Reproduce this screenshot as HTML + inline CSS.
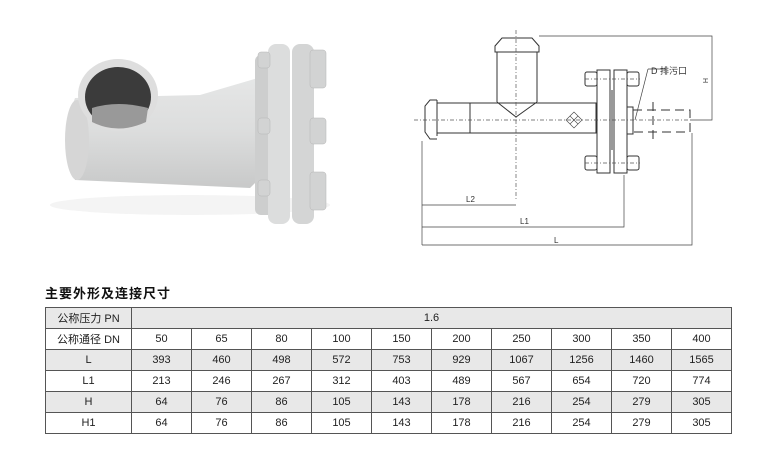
<!DOCTYPE html>
<html><head><meta charset="utf-8"><style>
body{margin:0;background:#fff;width:771px;height:466px;overflow:hidden;font-family:"Liberation Sans","Noto Sans CJK SC",sans-serif}
.t{position:absolute;left:45px;top:286px;font-size:13px;line-height:16px;font-weight:bold;color:#111;letter-spacing:1px}
table{position:absolute;left:45px;top:307px;border-collapse:collapse;font-size:11px;color:#222}
td{border:1px solid #555;height:20px;padding:0;text-align:center;width:59px}
td.h{width:85px}
tr.g td{background:#e8e8e8}
</style></head><body>
<svg width="771" height="290" style="position:absolute;left:0;top:0">
<defs><linearGradient id="pg" x1="0" y1="0" x2="0" y2="1"><stop offset="0" stop-color="#e6e7e7"/><stop offset=".5" stop-color="#dcdddd"/><stop offset="1" stop-color="#c8c9c9"/></linearGradient></defs>
<!-- photo -->
<ellipse cx="190" cy="205" rx="140" ry="10" fill="#f4f4f4"/>
<path d="M75 98 Q62 130 75 180 L250 188 L268 170 L268 75 L200 95 Z" fill="url(#pg)"/>
<ellipse cx="77" cy="140" rx="12" ry="40" fill="#d6d6d6"/>
<ellipse cx="118" cy="95" rx="40" ry="36" fill="#dedede"/>
<ellipse cx="118" cy="97" rx="33" ry="30" fill="#3b3b3b"/>
<path d="M92 108 Q118 100 148 108 L146 122 Q118 135 92 122 Z" fill="#999"/>
<rect x="255" y="55" width="20" height="160" rx="6" fill="#cdcece"/>
<rect x="268" y="44" width="22" height="180" rx="8" fill="#dcdddd"/>
<rect x="292" y="44" width="22" height="180" rx="8" fill="#d4d5d5"/>
<g fill="#d2d3d3" stroke="#b5b5b5" stroke-width=".5">
<rect x="258" y="52" width="12" height="16" rx="3"/><rect x="258" y="118" width="12" height="16" rx="3"/><rect x="258" y="180" width="12" height="16" rx="3"/>
<rect x="310" y="50" width="16" height="38" rx="3"/><rect x="310" y="118" width="16" height="26" rx="3"/><rect x="310" y="172" width="16" height="38" rx="3"/>
</g>
<!-- drawing -->
<g fill="none" stroke="#333" stroke-width="1">
<path d="M497 52 L497 102 M537 52 L537 102 M497 102 L516 117 L537 102"/>
<path d="M495 52 L539 52 L539 46 L532 38 L502 38 L495 46 Z"/>
<path d="M437 103 L597 103 M437 133 L597 133 M470 103 L470 133 M596 103 V133"/>
<path d="M437 100 L437 136 M437 100 L430 100 L425 106 L425 132 L430 139 L437 139"/>
<rect x="597" y="70" width="13" height="103"/><rect x="614" y="70" width="13" height="103"/>
<rect x="585" y="72" width="12" height="14" rx="2"/><rect x="627" y="72" width="12" height="14" rx="2"/>
<rect x="585" y="156" width="12" height="14" rx="2"/><rect x="627" y="156" width="12" height="14" rx="2"/>
<rect x="627" y="107" width="6" height="27"/>
<path d="M610 90 V150 M612 90 V150"/>
</g>
<g fill="none" stroke="#333" stroke-dasharray="9,5">
<path d="M633 110 H690 V132 H633 M653 102 V142"/>
</g>
<g fill="none" stroke="#555" stroke-width=".7" stroke-dasharray="4,2,1,2">
<path d="M414 120 H690 M516 30 V200 M585 79 H640 M585 163 H640"/>
</g>
<path d="M566 120 l8 -8 l8 8 l-8 8 z M566 120 l8 8 M570 116 l8 8 M574 112 l8 8 M570 124 l8 -8 M566 120 l8 -8 M574 128 l8 -8" stroke="#444" stroke-width=".6" fill="none"/>
<g stroke="#444" stroke-width=".7" fill="none">
<path d="M539 36 H712 V120 H690"/>
<path d="M422 141 V245 M422 205 H516 M422 227 H624 V175 M422 245 H692 V133"/>
<path d="M648 69 L635 120 M648 69 H666"/>
</g>
<text x="703" y="78" font-size="7" transform="rotate(90 703 78)" fill="#333">H</text>
<text x="466" y="202" font-size="8" fill="#333">L2</text>
<text x="520" y="224" font-size="8" fill="#333">L1</text>
<text x="554" y="243" font-size="8" fill="#333">L</text>
<text x="651" y="74" font-size="9" fill="#333">D 排污口</text>
</svg>
<div class="t">主要外形及连接尺寸</div>
<table>
<tr class="g"><td class="h">公称压力 PN</td><td colspan="10">1.6</td></tr>
<tr><td class="h">公称通径 DN</td><td>50</td><td>65</td><td>80</td><td>100</td><td>150</td><td>200</td><td>250</td><td>300</td><td>350</td><td>400</td></tr>
<tr class="g"><td class="h">L</td><td>393</td><td>460</td><td>498</td><td>572</td><td>753</td><td>929</td><td>1067</td><td>1256</td><td>1460</td><td>1565</td></tr>
<tr><td class="h">L1</td><td>213</td><td>246</td><td>267</td><td>312</td><td>403</td><td>489</td><td>567</td><td>654</td><td>720</td><td>774</td></tr>
<tr class="g"><td class="h">H</td><td>64</td><td>76</td><td>86</td><td>105</td><td>143</td><td>178</td><td>216</td><td>254</td><td>279</td><td>305</td></tr>
<tr><td class="h">H1</td><td>64</td><td>76</td><td>86</td><td>105</td><td>143</td><td>178</td><td>216</td><td>254</td><td>279</td><td>305</td></tr>
</table>
</body></html>
